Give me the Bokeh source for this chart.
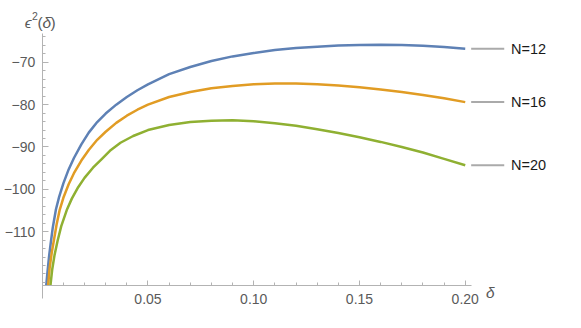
from bokeh.plotting import figure
from bokeh.models import Range1d, FixedTicker, NumeralTickFormatter
from bokeh.core.properties import value
from bokeh.embed import file_html
from bokeh.resources import INLINE

# ---- data ----
series_names = ["N=12", "N=16", "N=20"]
series_colors = ["#5E81B5", "#E19C24", "#8FB032"]

delta_n12 = [0.0019, 0.0025, 0.0032, 0.004, 0.005, 0.0065, 0.008, 0.010, 0.0125, 0.015,
             0.0185, 0.022, 0.026, 0.030, 0.035, 0.040, 0.045, 0.050, 0.060, 0.070,
             0.080, 0.090, 0.100, 0.110, 0.120, 0.130, 0.140, 0.150, 0.160, 0.170,
             0.180, 0.190, 0.200]
eps2_n12 = [-122.7, -119.5, -116.0, -112.8, -109.0, -104.7, -101.8, -98.6, -95.3, -92.6,
            -89.4, -86.6, -84.1, -82.1, -80.0, -78.2, -76.6, -75.2, -72.8, -71.1,
            -69.7, -68.6, -67.8, -67.1, -66.6, -66.3, -66.0, -65.9, -65.85, -65.9,
            -66.1, -66.4, -66.8]

delta_n16 = [0.0028, 0.0035, 0.0045, 0.0055, 0.0068, 0.0082, 0.010, 0.0125, 0.015, 0.0185,
             0.022, 0.026, 0.030, 0.035, 0.040, 0.045, 0.050, 0.060, 0.070, 0.080,
             0.090, 0.100, 0.110, 0.120, 0.130, 0.140, 0.150, 0.160, 0.170, 0.180,
             0.190, 0.200]
eps2_n16 = [-122.7, -118.6, -115.0, -112.1, -108.3, -105.0, -102.0, -98.8, -96.2, -93.2,
            -90.7, -88.3, -86.4, -84.3, -82.6, -81.2, -80.0, -78.2, -77.0, -76.1,
            -75.6, -75.2, -75.0, -75.0, -75.2, -75.5, -75.9, -76.4, -77.0, -77.7,
            -78.5, -79.4]

delta_n20 = [0.0039, 0.0047, 0.0058, 0.0073, 0.009, 0.0116, 0.014, 0.017, 0.020, 0.024,
             0.028, 0.032, 0.037, 0.043, 0.050, 0.060, 0.070, 0.080, 0.090, 0.100,
             0.110, 0.120, 0.130, 0.140, 0.150, 0.160, 0.170, 0.180, 0.190, 0.200]
eps2_n20 = [-122.7, -119.0, -115.6, -112.1, -108.7, -104.9, -102.2, -99.5, -97.3, -94.9,
            -92.9, -90.9, -89.0, -87.4, -86.0, -84.8, -84.1, -83.8, -83.7, -83.9,
            -84.4, -85.0, -85.8, -86.7, -87.7, -88.8, -90.0, -91.3, -92.8, -94.3]

x_tick_vals = [0.05, 0.10, 0.15, 0.20]
x_tick_labels = ["0.05", "0.10", "0.15", "0.20"]
y_tick_vals = [-110, -100, -90, -80, -70]
y_tick_labels = ["\u2212110", "\u2212100", "\u221290", "\u221280", "\u221270"]
x_axis_y = -122.7   # where the horizontal axis crosses

# ---- layout helpers: reference-image pixel -> data, used only to place texts/ranges ----
REF_W, REF_H = 581, 328
PXX, X0 = 2175.0, 42.9      # reference px per unit delta, reference x of delta=0
PXY, Y70 = 4.45, 65.0       # reference px per unit eps2, reference y of -70


def dx(px):
    return (px - X0) / PXX


def dy(py):
    return -70 - (py - Y70) / PXY


FONT = "Liberation Sans"
AXIS_GRAY = "#b3b3b3"
LABEL_GRAY = "#5a5a5a"

# the frame spans the whole canvas, which stands for the whole reference image
p = figure(width=565, height=312, title=None,
           x_range=Range1d(dx(0), dx(REF_W)), y_range=Range1d(dy(REF_H), dy(0)),
           output_backend="svg", toolbar_location=None,
           min_border_left=0, min_border_right=0, min_border_top=0, min_border_bottom=0)
p.outline_line_color = None
p.xgrid.visible = False
p.ygrid.visible = False
p.background_fill_color = "white"
p.border_fill_color = "white"

xs = [delta_n12, delta_n16, delta_n20]
ys = [eps2_n12, eps2_n16, eps2_n20]
for x, y, c in zip(xs, ys, series_colors):
    p.line(x, y, line_width=2.5, line_color=c)

# end-of-line labels
ends = [y[-1] for y in ys]
p.segment(x0=[dx(484)] * 3, y0=ends, x1=[dx(518)] * 3, y1=ends,
          line_color="#aaaaaa", line_width=2)
p.text(x=[dx(525)] * 3, y=ends, text=series_names,
       text_font=value(FONT), text_font_size=value("14.5px"),
       text_baseline="middle", text_align="left", text_color="#1a1a1a")

# axes crossing inside the plot area (Mathematica style)
xminor = [round(0.01 * i, 2) for i in range(1, 21)]
yminor = list(range(-122, -63, 2))
p.xaxis.ticker = FixedTicker(ticks=x_tick_vals, minor_ticks=xminor)
p.xaxis.formatter = NumeralTickFormatter(format="0.00")
p.xaxis.major_label_overrides = dict(zip(x_tick_vals, x_tick_labels))
p.yaxis.ticker = FixedTicker(ticks=y_tick_vals, minor_ticks=yminor)
p.yaxis.major_label_overrides = dict(zip(y_tick_vals, y_tick_labels))
p.xaxis.fixed_location = x_axis_y
p.yaxis.fixed_location = 0
p.xaxis.bounds = (0, dx(484))
p.yaxis.bounds = (dy(313), dy(35))

for ax in (p.xaxis[0], p.yaxis[0]):
    ax.axis_line_color = AXIS_GRAY
    ax.axis_line_width = 1
    ax.major_tick_line_color = AXIS_GRAY
    ax.minor_tick_line_color = AXIS_GRAY
    ax.major_tick_out = 0
    ax.minor_tick_out = 0
    ax.major_label_text_font = FONT
    ax.major_label_text_font_size = "14px"
    ax.major_label_text_color = LABEL_GRAY
p.xaxis.major_tick_in = 5
p.xaxis.minor_tick_in = 3
p.yaxis.major_tick_in = 6
p.yaxis.minor_tick_in = 3
p.xaxis.major_label_standoff = 9
p.yaxis.major_label_standoff = 7

# axis labels: epsilon^2(delta) atop the vertical axis, delta at the end of the horizontal one
lab_font = value(FONT)
p.text(x=[dx(25)], y=[dy(22.7)], text=["\u03f5"], text_font=lab_font,
       text_font_size=value("15.5px"), text_color=LABEL_GRAY, text_baseline="alphabetic",
       text_font_style="italic")
p.text(x=[dx(32.3)], y=[dy(16)], text=["2"], text_font=lab_font,
       text_font_size=value("10.5px"), text_color=LABEL_GRAY, text_baseline="alphabetic")
p.text(x=[dx(38.0), dx(51.5)], y=[dy(22.7)] * 2, text=["(", ")"], text_font=lab_font,
       text_font_size=value("15.5px"), text_color=LABEL_GRAY, text_baseline="alphabetic")
p.text(x=[dx(43.3)], y=[dy(22.7)], text=["\u03b4"], text_font=lab_font,
       text_font_size=value("15.5px"), text_color=LABEL_GRAY, text_baseline="alphabetic",
       text_font_style="italic")
p.text(x=[dx(499.3)], y=[dy(306.7)], text=["\u03b4"], text_font=lab_font,
       text_font_size=value("15.5px"), text_color=LABEL_GRAY, text_baseline="alphabetic",
       text_font_style="italic")

open("out.html", "w").write(file_html(p, INLINE))
